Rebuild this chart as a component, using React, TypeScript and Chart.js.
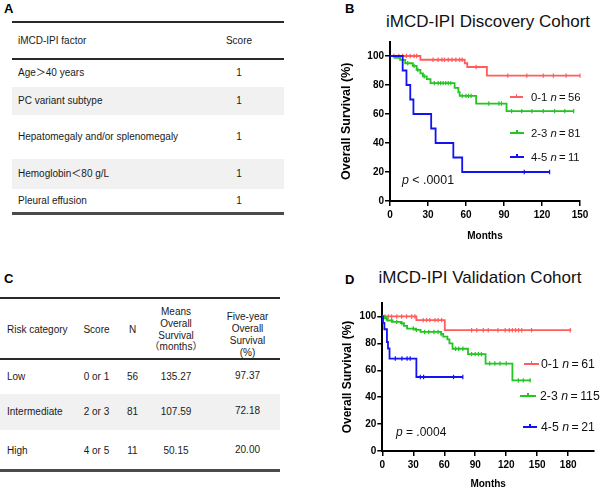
import React, { useEffect, useRef } from 'react';
import { Chart, registerables } from 'chart.js';
Chart.register(...registerables);

const FONT = '"Liberation Sans", Arial, Helvetica, "Noto Sans CJK SC", sans-serif';

// ---------- Panel A data ----------
const ipiFactors = ['Age\uFF1E40 years', 'PC variant subtype', 'Hepatomegaly and/or splenomegaly', 'Hemoglobin\uFF1C80 g/L', 'Pleural effusion'];
const ipiScores = ['1', '1', '1', '1', '1'];

// ---------- Panel C data ----------
const riskCategories = ['Low', 'Intermediate', 'High'];
const riskScores = ['0 or 1', '2 or 3', '4 or 5'];
const riskN = ['56', '81', '11'];
const meanOS = ['135.27', '107.59', '50.15'];
const fiveYearOS = ['97.37', '72.18', '20.00'];

// ---------- Shared axis ticks ----------
const survTicksY = [0, 20, 40, 60, 80, 100];

// ---------- Panel B (Discovery cohort) ----------
const bTicksX = [0, 30, 60, 90, 120, 150];
const bLowT = [0, 24, 59, 61, 76.5, 150];
const bLowS = [100, 97.4, 95, 92.4, 86.5, 86.5];
const bLowCens = [3, 7, 10, 13, 16, 19, 21, 34, 38, 41, 43, 46, 49, 52, 55, 57, 68, 93, 108, 121, 129, 139, 150];
const bMidT = [0, 4, 8, 12, 18, 21, 24, 26, 29, 32, 51, 54, 55, 68, 92, 145];
const bMidS = [100, 98.7, 97.3, 95, 93.2, 90.5, 88, 86, 84, 81.3, 78, 75, 72.5, 67.2, 62, 62];
const bMidCens = [14, 19, 22, 27, 35, 38, 40, 42, 44, 46, 48, 57, 60, 62, 64, 78, 86, 88, 96, 104, 112, 121, 130, 138, 145];
const bHighT = [0, 10, 13, 16, 18.5, 32.5, 36, 50, 57, 126];
const bHighS = [100, 90, 80, 70, 60, 50, 40, 30, 20, 20];
const bHighCens = [106, 126];

// ---------- Panel D (Validation cohort) ----------
const dTicksX = [0, 30, 60, 90, 120, 150, 180];
const dLowT = [0, 33, 60.5, 183];
const dLowS = [100, 97.3, 89.8, 89.8];
const dLowCens = [2.6, 5.8, 9, 14, 18.7, 23.5, 28.4, 31.6, 39.7, 42.9, 46, 51, 54, 57.4, 86.5, 91.5, 97.8, 102.6, 112, 119, 123, 126, 129, 132, 135, 144.5, 182];
const dMidT = [0, 2, 5, 10, 18, 21, 24, 32, 37, 57, 59, 63, 65, 68, 83, 100, 126, 144];
const dMidS = [100, 98.5, 97, 96, 95, 93, 91, 90, 88.5, 87, 85, 83, 80, 76, 72, 65, 52.5, 52.5];
const dMidCens = [4, 9, 14, 19, 30, 33, 41, 45, 50, 54, 57, 71, 74, 78, 86.5, 90, 93, 96, 104, 109, 114, 120, 131.7, 136.5, 143];
const dHighT = [0, 0.7, 2, 4.5, 5.5, 7, 33, 78];
const dHighS = [100, 95.2, 90.5, 81, 76.2, 68.7, 55, 55];
const dHighCens = [12.6, 19, 24, 27, 36.8, 40, 69, 78];

const RED = '#ff5c5c';
const GREEN = '#22c522';
const BLUE = '#1212f2';

type Series = { t: number[]; s: number[]; cens: number[]; color: string };

function stepAt(t: number[], s: number[], x: number) {
  let v = s[0];
  for (let i = 0; i < t.length; i++) if (t[i] <= x) v = s[i];
  return v;
}

type KMProps = {
  left: number; top: number; width: number; height: number;
  xMax: number; xTicks: number[];
  yAxisWidth: number; xAxisHeight: number;
  padTop: number; padRight: number;
  yTitlePad: number; yTitleSize: number; xTitlePadBottom: number;
  series: Series[];
};

function KMChart(p: KMProps) {
  const ref = useRef<HTMLCanvasElement>(null);
  useEffect(() => {
    if (!ref.current) return;
    const datasets: any[] = [];
    p.series.forEach((se) => {
      datasets.push({
        data: se.t.map((x, i) => ({ x, y: se.s[i] })),
        showLine: true, stepped: 'before', borderColor: se.color, backgroundColor: se.color,
        borderWidth: 1.8, pointRadius: 0, fill: false, clip: false,
      });
      datasets.push({
        data: se.cens.map((x) => ({ x, y: stepAt(se.t, se.s, x) })),
        showLine: false, pointStyle: 'line', pointRotation: 90, pointRadius: 2.2,
        pointBorderWidth: 1.2, pointBorderColor: se.color, borderColor: se.color, backgroundColor: se.color, clip: false,
      });
    });
    const tickFont = { family: FONT, size: 10, weight: 'bold' as const };
    const chart = new Chart(ref.current, {
      type: 'scatter',
      data: { datasets },
      options: {
        animation: false,
        responsive: false,
        maintainAspectRatio: false,
        layout: { padding: { left: 0, right: p.padRight, top: p.padTop, bottom: 0 } },
        plugins: { legend: { display: false }, tooltip: { enabled: false } },
        scales: {
          x: {
            type: 'linear', min: 0, max: p.xMax,
            afterBuildTicks: (sc: any) => { sc.ticks = p.xTicks.map((v) => ({ value: v })); },
            afterFit: (sc: any) => { sc.height = p.xAxisHeight; },
            grid: { drawOnChartArea: false, drawTicks: true, tickLength: 5, color: '#000', lineWidth: 1.5 },
            border: { display: true, color: '#000', width: 2 },
            ticks: { font: tickFont, color: '#000', padding: 3, maxRotation: 0, autoSkip: false },
            title: { display: true, text: 'Months', color: '#000', font: { family: FONT, size: 10, weight: 'bold', lineHeight: 1 }, padding: { top: 0, bottom: p.xTitlePadBottom } },
          },
          y: {
            type: 'linear', min: 0, max: 110,
            afterBuildTicks: (sc: any) => { sc.ticks = survTicksY.map((v) => ({ value: v })); },
            afterFit: (sc: any) => { sc.width = p.yAxisWidth; },
            grid: { drawOnChartArea: false, drawTicks: true, tickLength: 5, color: '#000', lineWidth: 1.5 },
            border: { display: true, color: '#000', width: 2 },
            ticks: { font: tickFont, color: '#000', padding: 1, autoSkip: false },
            title: { display: true, text: 'Overall Survival (%)', color: '#000', font: { family: FONT, size: p.yTitleSize, weight: 'bold' }, padding: { top: p.yTitlePad, bottom: 0 } },
          },
        },
      } as any,
    });
    return () => chart.destroy();
  }, []);
  return (
    <canvas ref={ref} width={p.width} height={p.height}
      style={{ position: 'absolute', left: p.left, top: p.top, width: p.width, height: p.height }} />
  );
}

type TP = { x: number; y: number; size?: number; align?: 'left' | 'center' | 'right'; weight?: any; color?: string; children: any };
function T({ x, y, size = 10, align = 'left', weight = 'normal', color = '#1a1a1a', children }: TP) {
  const tx = align === 'center' ? '-50%' : align === 'right' ? '-100%' : '0';
  return (
    <div style={{ position: 'absolute', left: x, top: y, transform: `translate(${tx}, -50%)`, fontSize: size, lineHeight: 1.15, fontFamily: FONT, fontWeight: weight, whiteSpace: 'nowrap', color }}>
      {children}
    </div>
  );
}

function HLine({ x, y, w, h, color }: { x: number; y: number; w: number; h: number; color: string }) {
  return <div style={{ position: 'absolute', left: x, top: y - h / 2, width: w, height: h, background: color }} />;
}

function Band({ x, y1, y2, w }: { x: number; y1: number; y2: number; w: number }) {
  return <div style={{ position: 'absolute', left: x, top: y1, width: w, height: y2 - y1, background: '#f1f1f1' }} />;
}

function LegendGlyph({ x1, x2, y, color }: { x1: number; x2: number; y: number; color: string }) {
  const mid = (x1 + x2) / 2;
  return (
    <>
      <div style={{ position: 'absolute', left: x1, top: y - 0.9, width: x2 - x1, height: 1.8, background: color }} />
      <div style={{ position: 'absolute', left: mid - 0.6, top: y - 3, width: 1.2, height: 3, background: color }} />
    </>
  );
}

function LegendLabel({ x, y, size, group, n }: { x: number; y: number; size: number; group: string; n: string }) {
  return (
    <T x={x} y={y} size={size} color="#111">
      {group} <i>n</i>{'\u2009=\u2009'}{n}
    </T>
  );
}

export default function App() {
  // Panel A layout
  const aRowCenters = [73, 101, 137, 174, 201];
  // Panel C layout
  const cRowCenters = [377, 412, 451];
  const cColScore = 96.5, cColN = 132.5, cColMean = 176, cColFive = 247.5;

  const seriesB: Series[] = [
    { t: bHighT, s: bHighS, cens: bHighCens, color: BLUE },
    { t: bMidT, s: bMidS, cens: bMidCens, color: GREEN },
    { t: bLowT, s: bLowS, cens: bLowCens, color: RED },
  ];
  const seriesD: Series[] = [
    { t: dHighT, s: dHighS, cens: dHighCens, color: BLUE },
    { t: dMidT, s: dMidS, cens: dMidCens, color: GREEN },
    { t: dLowT, s: dLowS, cens: dLowCens, color: RED },
  ];

  return (
    <div style={{ position: 'absolute', left: 0, top: 0, width: 600, height: 489, background: '#fff', overflow: 'hidden', fontFamily: FONT }}>
      {/* Panel letters */}
      <T x={4} y={8.5} size={13} weight="bold" color="#000">A</T>
      <T x={4} y={278.5} size={13} weight="bold" color="#000">C</T>
      <T x={345} y={8.5} size={13} weight="bold" color="#000">B</T>
      <T x={345} y={280} size={13} weight="bold" color="#000">D</T>

      {/* ---------- Table A ---------- */}
      <Band x={12} y1={87} y2={115} w={272} />
      <Band x={12} y1={159} y2={189} w={272} />
      <HLine x={12} y={22} w={272} h={2} color="#2a2a2a" />
      <HLine x={12} y={59} w={272} h={2} color="#2a2a2a" />
      <HLine x={12} y={213.5} w={272} h={2.5} color="#4a4a4a" />
      <T x={18} y={41}>iMCD-IPI factor</T>
      <T x={239} y={41} align="center">Score</T>
      {ipiFactors.map((f, i) => (
        <React.Fragment key={f}>
          <T x={18} y={aRowCenters[i]}>{f}</T>
          <T x={239} y={aRowCenters[i]} align="center">{ipiScores[i]}</T>
        </React.Fragment>
      ))}

      {/* ---------- Table C ---------- */}
      <Band x={0} y1={394} y2={430} w={280} />
      <HLine x={0} y={298.3} w={280} h={2} color="#2a2a2a" />
      <HLine x={0} y={358.7} w={280} h={2} color="#2a2a2a" />
      <HLine x={0} y={470.3} w={280} h={2.5} color="#4a4a4a" />
      <T x={7} y={329.5}>Risk category</T>
      <T x={cColScore} y={329.5} align="center">Score</T>
      <T x={cColN} y={329.5} align="center">N</T>
      <T x={cColMean} y={311.7} align="center">Means</T>
      <T x={cColMean} y={323.6} align="center">Overall</T>
      <T x={cColMean} y={335.5} align="center">Survival</T>
      <T x={cColMean} y={347.2} align="center">{'\uFF08months\uFF09'}</T>
      <T x={cColFive} y={316.8} align="center">Five-year</T>
      <T x={cColFive} y={328.6} align="center">Overall</T>
      <T x={cColFive} y={340.6} align="center">Survival</T>
      <T x={cColFive} y={352.6} align="center">(%)</T>
      {riskCategories.map((c, i) => (
        <React.Fragment key={c}>
          <T x={7} y={cRowCenters[i]}>{c}</T>
          <T x={cColScore} y={cRowCenters[i]} align="center">{riskScores[i]}</T>
          <T x={cColN} y={cRowCenters[i]} align="center">{riskN[i]}</T>
          <T x={cColMean} y={cRowCenters[i]} align="center">{meanOS[i]}</T>
          <T x={cColFive} y={cRowCenters[i] - 1.5} align="center">{fiveYearOS[i]}</T>
        </React.Fragment>
      ))}

      {/* ---------- Chart B ---------- */}
      <T x={488} y={21.5} size={17} align="center" color="#111">iMCD-IPI Discovery Cohort</T>
      <KMChart left={330} top={30} width={270} height={215}
        xMax={150} xTicks={bTicksX}
        yAxisWidth={60} xAxisHeight={44}
        padTop={11.5} padRight={20}
        yTitlePad={9.5} yTitleSize={12.5} xTitlePadBottom={4}
        series={seriesB} />
      <LegendGlyph x1={510} x2={523} y={97} color={RED} />
      <LegendGlyph x1={510} x2={524} y={133} color={GREEN} />
      <LegendGlyph x1={510} x2={524} y={157} color={BLUE} />
      <LegendLabel x={531} y={97} size={11.3} group="0-1" n="56" />
      <LegendLabel x={531} y={133} size={11.3} group="2-3" n="81" />
      <LegendLabel x={531} y={157} size={11.3} group="4-5" n="11" />
      <T x={402} y={180} size={12.4} color="#111"><i>p</i> &lt; .0001</T>

      {/* ---------- Chart D ---------- */}
      <T x={480} y={278} size={17} align="center" color="#111">iMCD-IPI Validation Cohort</T>
      <KMChart left={330} top={290} width={270} height={199}
        xMax={205} xTicks={dTicksX}
        yAxisWidth={52.3} xAxisHeight={38}
        padTop={13} padRight={6}
        yTitlePad={10.3} yTitleSize={12} xTitlePadBottom={0}
        series={seriesD} />
      <LegendGlyph x1={524} x2={539} y={364} color={RED} />
      <LegendGlyph x1={520} x2={536} y={396} color={GREEN} />
      <LegendGlyph x1={523} x2={537} y={427} color={BLUE} />
      <LegendLabel x={541} y={364} size={12.3} group="0-1" n="61" />
      <LegendLabel x={540} y={396} size={12.3} group="2-3" n="115" />
      <LegendLabel x={541} y={427} size={12.3} group="4-5" n="21" />
      <T x={396} y={433} size={12} color="#111"><i>p</i> = .0004</T>
    </div>
  );
}
